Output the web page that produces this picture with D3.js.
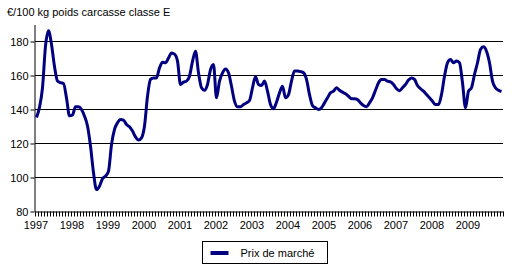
<!DOCTYPE html>
<html>
<head>
<meta charset="utf-8">
<script src="https://cdn.jsdelivr.net/npm/d3@7"></script>
<style>
  body { margin: 0; background: #fff; }
  svg { display: block; font-family: "Liberation Sans", Arial, sans-serif; }
</style>
</head>
<body>
<div id="chart"></div>
<script>
// monthly market price, Jan 1997 .. Dec 2009 (EUR / 100 kg)
var years = ["1997", "1998", "1999", "2000", "2001", "2002", "2003", "2004", "2005", "2006", "2007", "2008", "2009"];
var yTicks = [80, 100, 120, 140, 160, 180];
var prices = [
    135, 141, 152.5, 177, 186, 178, 165, 156.5, 155.5, 155, 146.5, 136,   // 1997
    136.5, 141.3, 141.3, 139.7, 135.8, 130, 118.2, 102.5, 92.6, 94.6, 99, 100.5, // 1998
    103.4, 119, 128, 131.9, 133.8, 133.5, 130.9, 129.5, 127, 123.6, 121.7, 123, // 1999
    130, 147.5, 157.4, 158.3, 158.3, 164.2, 167.5, 167.2, 170, 173, 172.3, 168.2, // 2000
    154.4, 155.8, 156.4, 159.3, 168, 174, 161.3, 152.5, 151, 154.4, 163.2, 166.2, // 2001
    146.6, 156.4, 161.3, 163.6, 161.3, 153.4, 144.6, 141.3, 141.3, 142.6, 143.6, 145, // 2002
    152.5, 159, 154.4, 153.8, 156.4, 150.5, 142.6, 140.1, 144, 149.5, 153.4, 146.6, // 2003
    148.5, 156.4, 162.3, 162.3, 162, 161.3, 157.4, 148.5, 142, 140.7, 139.7, 140.7, // 2004
    143.6, 146.6, 149.5, 150.5, 152.5, 151, 149.9, 149, 147.5, 146, 146, 145.5, // 2005
    143.6, 142, 141.3, 143.6, 146.6, 151, 155.4, 157.4, 157.4, 156.4, 156, 154.4, // 2006
    151.9, 150.8, 152.5, 154.4, 157, 158.3, 157.4, 153.8, 151.9, 150.5, 148.5, 146.6, // 2007
    144.5, 142.6, 142.6, 148.5, 159.3, 167.2, 169.1, 167.2, 168.2, 167.2, 155.4, 140.7, // 2008
    150.5, 152.5, 160.3, 167.2, 175, 176.6, 174, 167.2, 156.4, 152.5, 151, 150.3  // 2009
];
var seriesName = "Prix de marché";
var unitLabel = "€/100 kg poids carcasse classe E";

var width = 514, height = 268;
var margin = { top: 24, right: 10, bottom: 57, left: 35 };

var svg = d3.select("#chart").append("svg")
    .attr("width", width)
    .attr("height", height);

var xScale = d3.scaleLinear()
    .domain([0, prices.length])
    .range([margin.left, margin.left + prices.length * 3]);

var yScale = d3.scaleLinear()
    .domain([80, 190])
    .range([height - margin.bottom, margin.top]);

var x0 = xScale.range()[0], x1 = xScale.range()[1];

// gridlines
svg.append("g")
    .selectAll("line")
    .data(yTicks.filter(function (d) { return d > 80; }))
    .enter()
    .append("line")
    .attr("x1", x0)
    .attr("x2", x1)
    .attr("y1", function (d) { return Math.round(yScale(d)) + 0.5; })
    .attr("y2", function (d) { return Math.round(yScale(d)) + 0.5; })
    .attr("stroke", "#000")
    .attr("stroke-width", 1);

// y axis
var yAxis = svg.append("g")
    .attr("transform", "translate(" + (x0 - 0.5) + ",0.5)")
    .call(d3.axisLeft(yScale).tickValues(yTicks).tickSize(4).tickSizeOuter(0));
yAxis.select(".domain").attr("stroke", "#000");
yAxis.selectAll("text")
    .attr("font-size", 11)
    .attr("font-family", "Liberation Sans, Arial, sans-serif")
    .attr("fill", "#000")
    .attr("dx", "1");

// x axis: month ticks, year labels
var monthTicks = d3.range(0, prices.length + 1);
var xAxis = svg.append("g")
    .attr("transform", "translate(0," + (Math.round(yScale(80)) + 0.5) + ")")
    .call(d3.axisBottom(xScale).tickValues(monthTicks).tickSize(5).tickSizeOuter(0).tickFormat(""));
xAxis.select(".domain").attr("stroke", "#000");
xAxis.selectAll("line").attr("stroke", "#000");

svg.append("g")
    .selectAll("text")
    .data(years)
    .enter()
    .append("text")
    .attr("x", function (d, i) { return xScale(i * 12) + 1; })
    .attr("y", yScale(80) + 18)
    .attr("text-anchor", "middle")
    .attr("font-size", 11)
    .attr("fill", "#000")
    .text(function (d) { return d; });

// title / unit
svg.append("text")
    .attr("x", 7)
    .attr("y", 16)
    .attr("font-size", 11)
    .attr("fill", "#000")
    .text(unitLabel);

// price line
var line = d3.line()
    .x(function (d, i) { return xScale(i + 0.5); })
    .y(function (d) { return yScale(d); })
    .curve(d3.curveMonotoneX);

svg.append("path")
    .datum(prices)
    .attr("d", line)
    .attr("fill", "none")
    .attr("stroke", "#000080")
    .attr("stroke-width", 3)
    .attr("stroke-linejoin", "round");

// legend
var legend = svg.append("g").attr("transform", "translate(202.5,241.5)");
legend.append("rect")
    .attr("width", 125)
    .attr("height", 22)
    .attr("fill", "#fff")
    .attr("stroke", "#000");
legend.append("line")
    .attr("x1", 8)
    .attr("x2", 26)
    .attr("y1", 11.5)
    .attr("y2", 11.5)
    .attr("stroke", "#000080")
    .attr("stroke-width", 4);
legend.append("text")
    .attr("x", 38)
    .attr("y", 15.5)
    .attr("font-size", 11)
    .attr("fill", "#000")
    .text(seriesName);
</script>
</body>
</html>
